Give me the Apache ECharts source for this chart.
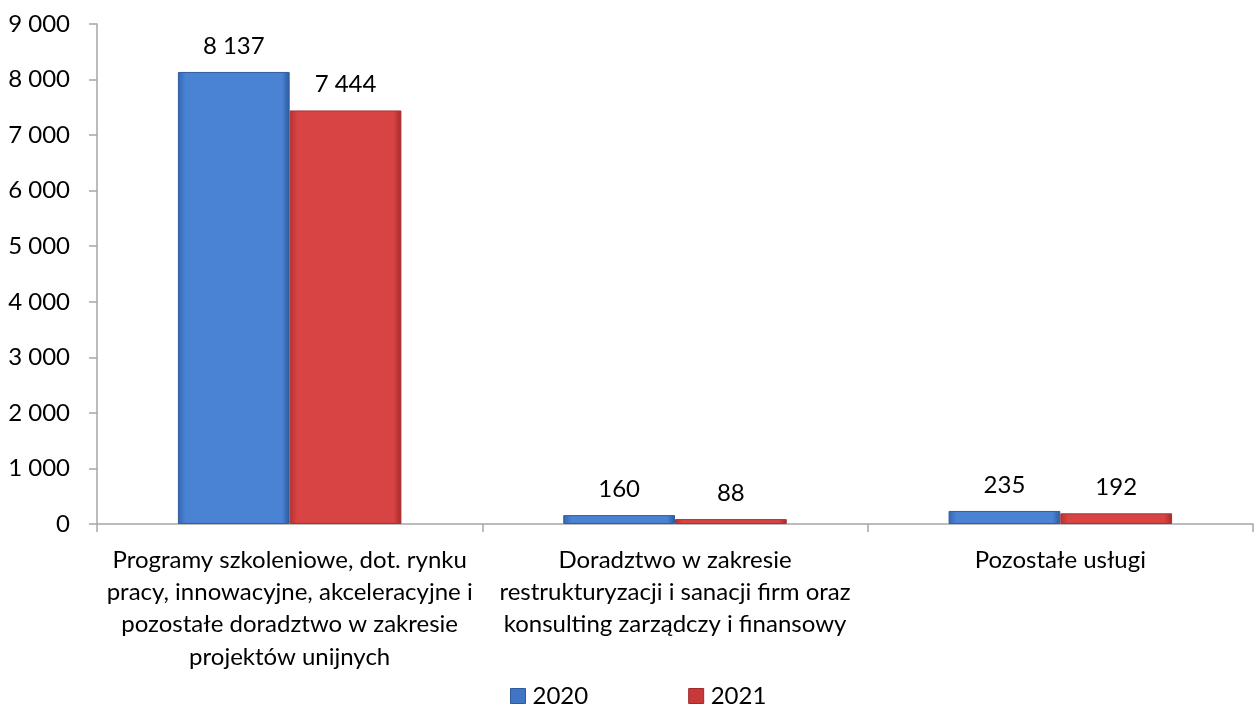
<!DOCTYPE html>
<html><head><meta charset="utf-8">
<script src="https://cdn.jsdelivr.net/npm/echarts@6/dist/echarts.min.js"></script>
<style>html,body{margin:0;padding:0;background:#fff}#c{width:1255px;height:708px}</style>
</head><body><div id="c"></div>
<script>
const categories = [
  "Programy szkoleniowe, dot. rynku\npracy, innowacyjne, akceleracyjne i\npozostałe doradztwo w zakresie\nprojektów unijnych",
  "Doradztwo w zakresie\nrestrukturyzacji i sanacji firm oraz\nkonsulting zarządczy i finansowy",
  "Pozostałe usługi"
];
const values2020 = [8137, 160, 235];
const values2021 = [7444, 88, 192];
const yTicks = [0, 1000, 2000, 3000, 4000, 5000, 6000, 7000, 8000, 9000];

const FONT = "Lato, 'Open Sans', sans-serif";
const FS = 24;
const fmt = v => String(v).replace(/\B(?=(\d{3})+(?!\d))/g, ' ');
const grad = (a, b, c) => new echarts.graphic.LinearGradient(0, 0, 1, 0, [
  {offset: 0, color: a}, {offset: 0.07, color: b}, {offset: 0.93, color: b}, {offset: 1, color: c}
]);

const chart = echarts.init(document.getElementById('c'));
chart.setOption({
  animation: false,
  textStyle: {fontFamily: FONT},
  grid: {left: 97, right: 2, top: 24, bottom: 184, containLabel: false},
  legend: {
    top: 684, left: 510, itemGap: 100, itemWidth: 15, itemHeight: 15,
    icon: 'rect', padding: 0,
    textStyle: {fontSize: FS, color: '#000', fontFamily: FONT, padding: [0, 0, 0, 2]},
    data: [
      {name: '2020', itemStyle: {color: '#3f75c4', borderColor: '#2c5a9c', borderWidth: 1}},
      {name: '2021', itemStyle: {color: '#c83a3a', borderColor: '#9e2a2a', borderWidth: 1}}
    ]
  },
  xAxis: {
    type: 'category', data: categories,
    axisLine: {lineStyle: {color: '#a6a6a6', width: 1.5}},
    axisTick: {show: true, length: 8, lineStyle: {color: '#a6a6a6', width: 1.5}},
    axisLabel: {fontSize: FS, color: '#000', lineHeight: 32.3, margin: 20, interval: 0, fontFamily: FONT}
  },
  yAxis: {
    type: 'value', min: yTicks[0], max: yTicks[yTicks.length - 1], interval: 1000,
    axisLine: {show: true, lineStyle: {color: '#a6a6a6', width: 1.5}},
    axisTick: {show: true, length: 8, lineStyle: {color: '#a6a6a6', width: 1.5}},
    splitLine: {show: false},
    axisLabel: {fontSize: FS, color: '#000', margin: 27, formatter: v => fmt(v), fontFamily: FONT}
  },
  series: [
    {
      name: '2020', type: 'bar', data: values2020, barGap: '0%', barCategoryGap: '42%',
      itemStyle: {color: grad('#3466b0', '#4a82d4', '#2c5a9c'), borderColor: '#2f5e9e', borderWidth: 1},
      label: {show: true, position: 'top', distance: 14, fontSize: FS, color: '#000', formatter: p => fmt(p.value), fontFamily: FONT}
    },
    {
      name: '2021', type: 'bar', data: values2021,
      itemStyle: {color: grad('#b83030', '#d84444', '#a82a2a'), borderColor: '#a83232', borderWidth: 1},
      label: {show: true, position: 'top', distance: 14, fontSize: FS, color: '#000', formatter: p => fmt(p.value), fontFamily: FONT}
    }
  ]
});
</script></body></html>
